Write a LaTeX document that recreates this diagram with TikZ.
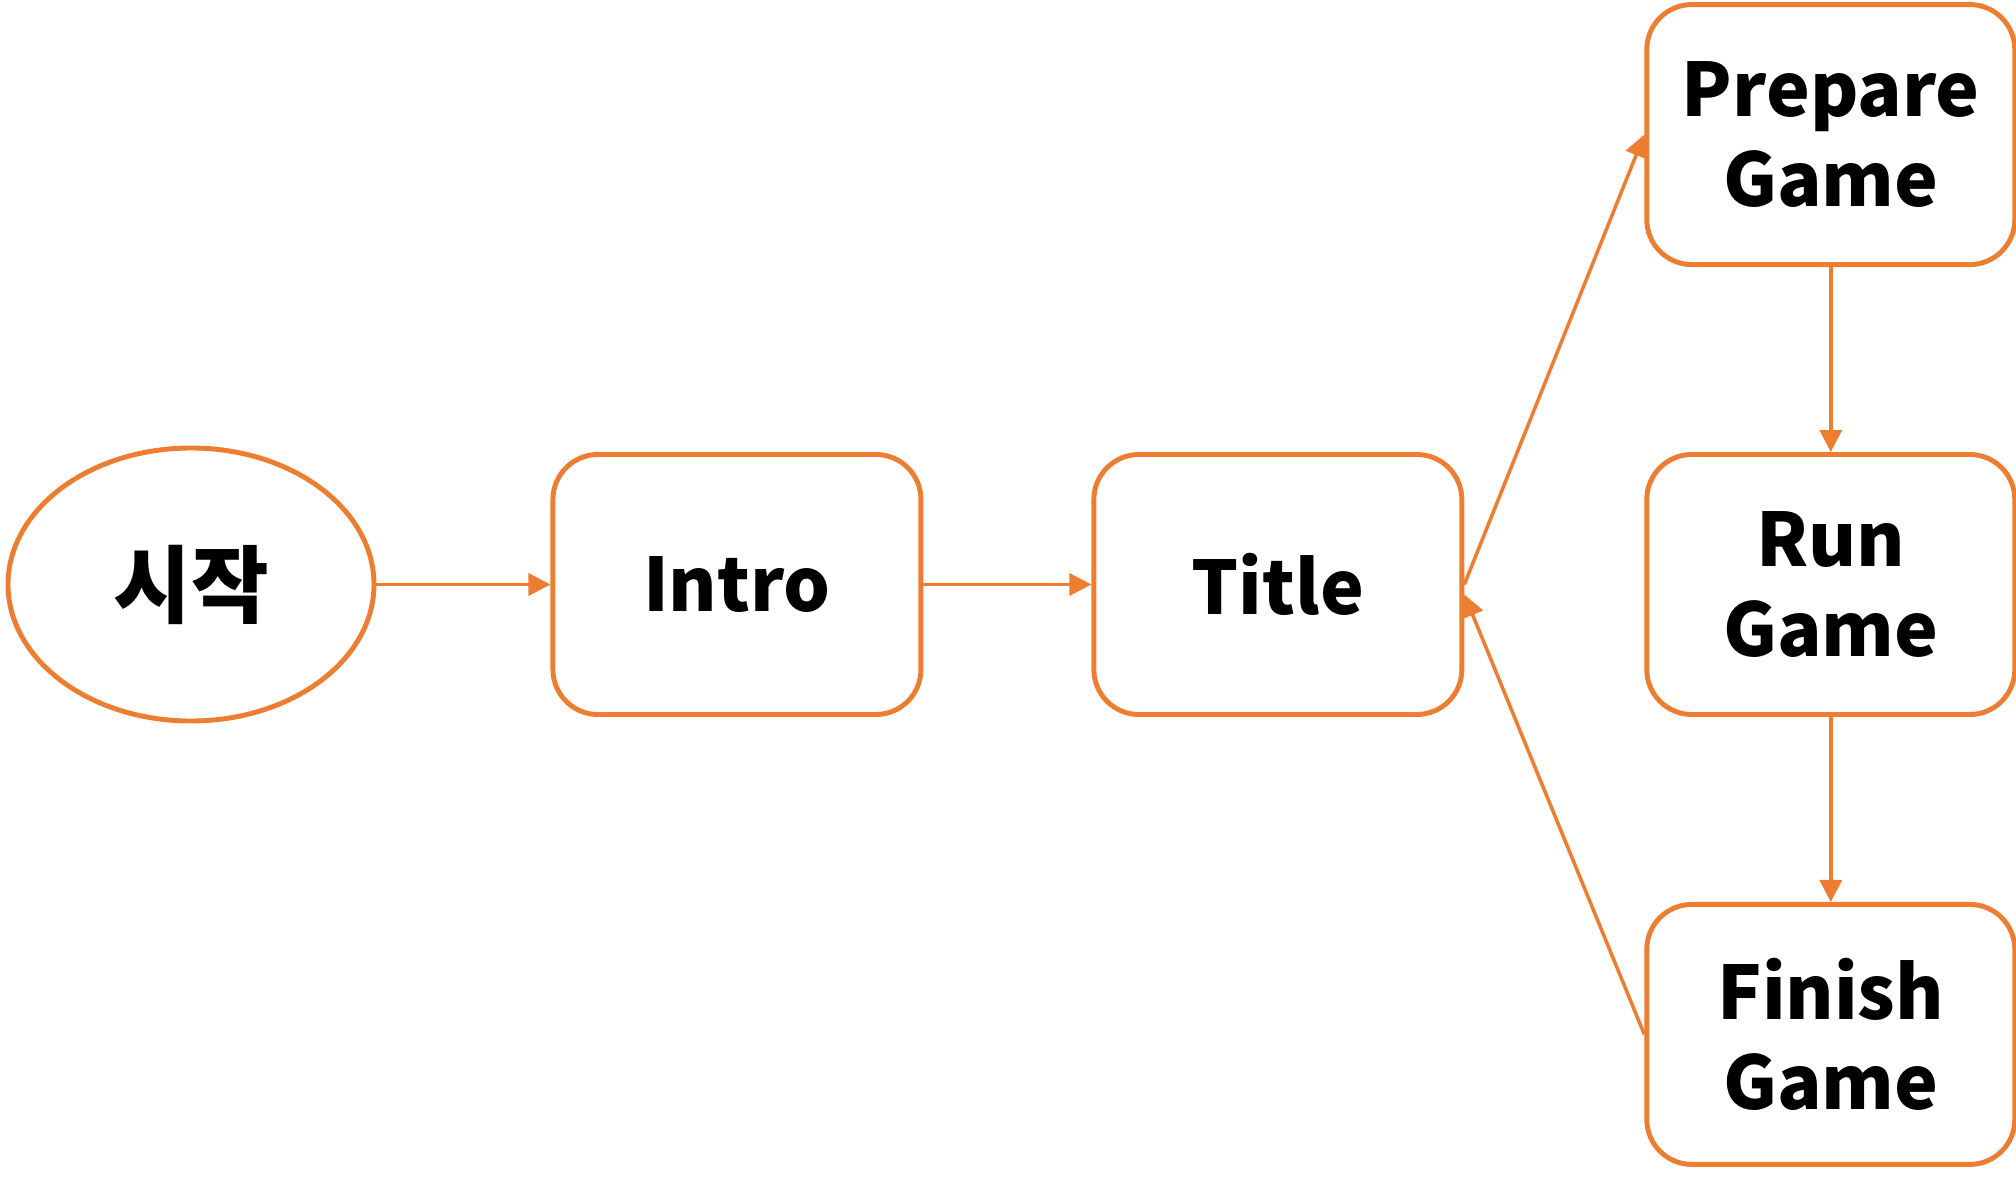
\documentclass[tikz,border=0pt]{standalone}
\usepackage{fontspec}
\setmainfont{Noto Sans CJK KR}
\usepackage{xcolor}
\definecolor{flowor}{HTML}{ED7D31}
\usetikzlibrary{shapes.geometric,arrows.meta,positioning,calc}

\begin{document}
\begin{tikzpicture}[
    node distance=1.85cm and 1.74cm,
    font=\fontsize{21}{25.5}\selectfont\bfseries,
    stage/.style={rectangle, draw=flowor, line width=1.4pt, fill=white, rounded corners=0.45cm, minimum width=3.68cm, minimum height=2.6cm, inner sep=0pt, text centered, text width=3.4cm},
    terminal/.style={ellipse, draw=flowor, line width=1.4pt, fill=white, minimum width=3.66cm, minimum height=2.73cm, inner sep=0pt, font=\fontsize{24}{28}\selectfont\bfseries},
    arrow/.style={-{Triangle[length=0.22cm,width=0.22cm]}, line width=1pt, draw=flowor}
]
    \useasboundingbox (0,0) rectangle (20.16,-11.87);

    \node (start) [terminal] at (1.91,-5.845) {시작};
    \node (intro) [stage, right=of start] {Intro};
    \node (title) [stage, right=1.68cm of intro] {Title};
    \node (run) [stage, right=1.8cm of title] {Run\\Game};
    \node (prepare) [stage, above=of run] {Prepare\\Game};
    \node (finish) [stage, below=of run] {Finish\\Game};

    \draw [arrow] (start) -- (intro);
    \draw [arrow] (intro) -- (title);
    \draw [arrow] (title.east) -- (prepare.west);
    \draw [arrow] (prepare) -- (run);
    \draw [arrow] (run) -- (finish);
    \draw [arrow] (finish.west) -- ([yshift=-0.1cm]title.east);
\end{tikzpicture}
\end{document}
